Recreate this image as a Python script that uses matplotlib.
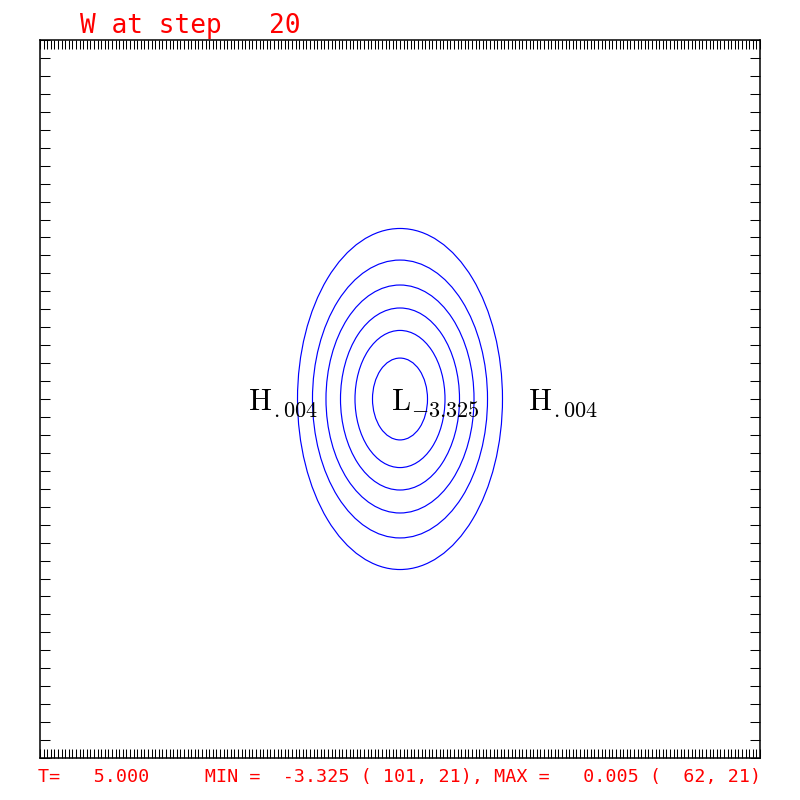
import numpy as np
import matplotlib
matplotlib.use("Agg")
import matplotlib.pyplot as plt
from matplotlib.patches import Ellipse

# ---- data ----
nx, ny = 201, 41                      # grid points
center_i, center_j = 101, 21          # location of minimum
levels = [-0.5, -1.0, -1.5, -2.0, -2.5, -3.0]
half_width = [28.47, 24.31, 20.56, 16.53, 12.50, 7.64]   # grid units (x)
half_height = [9.50, 7.74, 6.35, 5.07, 3.82, 2.28]       # grid units (y)

hl_kind = ["H", "L", "H"]
hl_i = [62, 101, 140]
hl_j = [21, 21, 21]
hl_text = [".004", "-3.325", ".004"]

step = 20
time_val = 5.000
min_val, min_loc = -3.325, (101, 21)
max_val, max_loc = 0.005, (62, 21)

plt.rcParams["mathtext.fontset"] = "cm"

fig = plt.figure(figsize=(8, 8), dpi=100)
ax = fig.add_axes([40 / 800, 42 / 800, 720 / 800, 718 / 800])
ax.set_xlim(1, nx)
ax.set_ylim(1, ny)

for lev, w, h in zip(levels, half_width, half_height):
    ax.add_patch(Ellipse((center_i, center_j), 2 * w, 2 * h, fill=False,
                         edgecolor="#0000ff", lw=0.85))

for k, i, j, t in zip(hl_kind, hl_i, hl_j, hl_text):
    dx = 1 if k == "L" else 0
    ax.annotate(r"$\mathrm{%s}$" % k, xy=(i, j), xytext=(dx, -11),
                textcoords="offset pixels", ha="center", va="baseline",
                fontsize=22, color="black")
    xo = 11 if k == "L" else 13
    ax.annotate(r"$%s$" % t, xy=(i, j), xytext=(xo, -18),
                textcoords="offset pixels", ha="left", va="baseline",
                fontsize=16, color="black")

ax.set_xticks(np.arange(1, nx + 1))
ax.set_yticks(np.arange(1, ny + 1))
ax.tick_params(axis="x", direction="in", length=6.5, width=0.75,
               top=True, bottom=True, labelbottom=False, labeltop=False)
ax.tick_params(axis="y", direction="in", length=7.3, width=0.75,
               left=True, right=True, labelleft=False, labelright=False)
for s in ax.spines.values():
    s.set_linewidth(1.1)
    s.set_color("black")

mono = ["DejaVu Sans Mono"]
fig.text(80.5 / 800, 1 - 33 / 800, "W at step  %3d" % step, family=mono,
         fontsize=18.8, color="#ff0000", ha="left", va="baseline")
bottom = "T=%8.3f     MIN = %7.3f (%4d,%3d), MAX = %7.3f (%4d,%3d)" % (
    time_val, min_val, min_loc[0], min_loc[1], max_val, max_loc[0], max_loc[1])
fig.text(38.5 / 800, 1 - 782 / 800, bottom, family=mono, fontsize=13.28,
         color="#ff0000", ha="left", va="baseline")

fig.savefig("out.png", dpi=100, facecolor="white")
